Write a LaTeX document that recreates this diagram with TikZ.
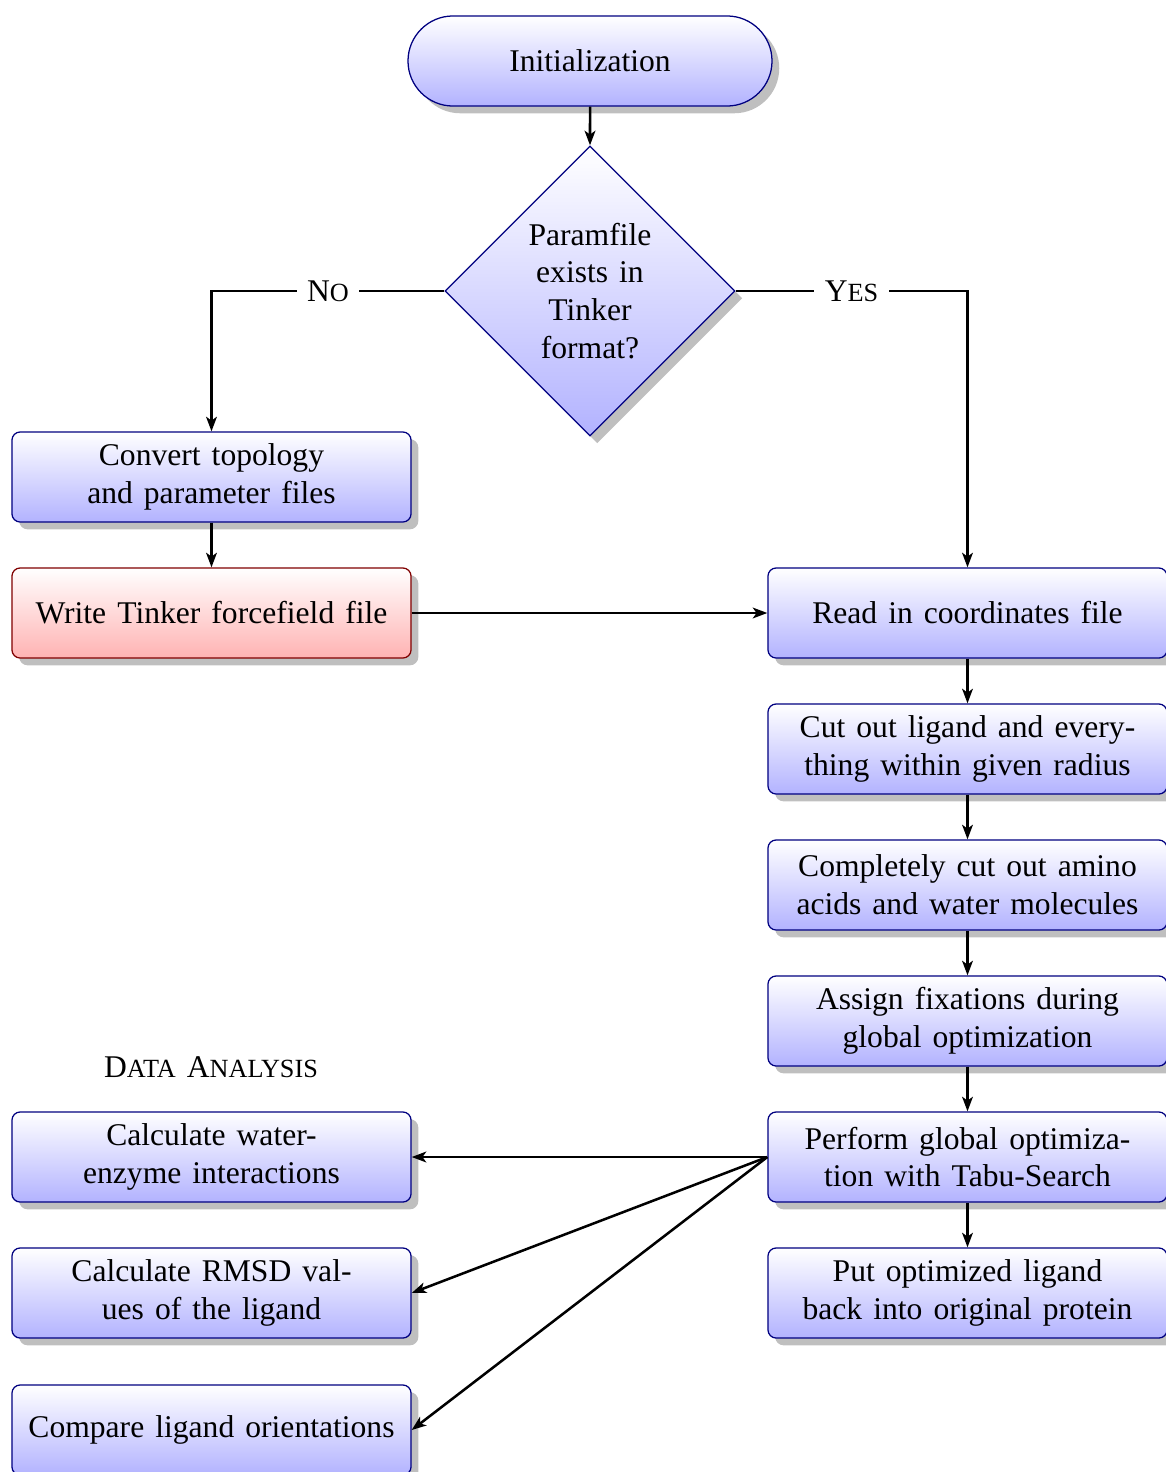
\documentclass[tikz,border=0pt]{standalone}
\usepackage{fontspec}
\setmainfont{Liberation Serif}[WordSpace=1.4]
\usetikzlibrary{shapes.geometric,shapes.misc,shadows,arrows.meta}

% small capitals built from scaled capitals
\newcommand{\smallcap}[1]{{\fontsize{8.3}{9}\selectfont #1}}

\begin{document}
\begin{tikzpicture}[x=0.31647pt,y=-0.31647pt,
  font=\fontsize{10}{12}\selectfont,
  base/.style={draw=blue!50!black, top color=white, bottom color=blue!30,
    drop shadow, align=center, inner sep=0pt},
  procbox/.style={base, rectangle, rounded corners=2.6pt,
    minimum width=126.3pt, minimum height=28.5pt},
  warnbox/.style={procbox, draw=red!50!black, bottom color=red!30},
  terminal/.style={base, rounded rectangle, minimum width=115.2pt,
    minimum height=28.5pt},
  decision/.style={base, diamond, aspect=1, minimum width=91.8pt,
    minimum height=91.8pt},
  flow/.style={thick, -{Stealth[length=4.6pt,width=3.4pt,inset=1.2pt]}},
  choice/.style={fill=white, inner sep=3.3pt},
  heading/.style={inner sep=0pt}
]
\useasboundingbox (0,0) rectangle (1166,1472);

% start and decision
\node[terminal] (init) at (590,61) {Initialization};
\node[decision] (dec) at (590,291) {Paramfile\\exists in\\Tinker\\format?};

% conversion branch
\node[procbox] (conv) at (211.5,477) {Convert topology\\and parameter files};
\node[warnbox] (write) at (211.5,613) {Write Tinker forcefield file};

% main chain
\node[procbox] (read) at (967.5,613) {Read in coordinates file};
\node[procbox] (cut) at (967.5,749) {Cut out ligand and every-\\thing within given radius};
\node[procbox] (compl) at (967.5,885) {Completely cut out amino\\acids and water molecules};
\node[procbox] (assign) at (967.5,1021) {Assign fixations during\\global optimization};
\node[procbox] (perf) at (967.5,1157) {Perform global optimiza-\\tion with Tabu-Search};
\node[procbox] (put) at (967.5,1293) {Put optimized ligand\\back into original protein};

% analysis
\node[heading] (da) at (211,1067) {D\smallcap{ATA} A\smallcap{NALYSIS}};
\node[procbox] (water) at (211.5,1157) {Calculate water-\\enzyme interactions};
\node[procbox] (rmsd) at (211.5,1293) {Calculate RMSD val-\\ues of the ligand};
\node[procbox] (orient) at (211.5,1430) {Compare ligand orientations};

% connectors
\draw[flow] (init) -- (dec);
\draw[flow] (dec.west) -| node[choice, pos=0.25] {N\smallcap{O}} (conv.north);
\draw[flow] (dec.east) -| node[choice, pos=0.25] {Y\smallcap{ES}} (read.north);
\draw[flow] (conv) -- (write);
\draw[flow] (write) -- (read);
\draw[flow] (read) -- (cut);
\draw[flow] (cut) -- (compl);
\draw[flow] (compl) -- (assign);
\draw[flow] (assign) -- (perf);
\draw[flow] (perf) -- (put);
\draw[flow] (perf.west) -- (water.east);
\draw[flow] (perf.west) -- (rmsd.east);
\draw[flow] (perf.west) -- (orient.east);
\end{tikzpicture}
\end{document}
